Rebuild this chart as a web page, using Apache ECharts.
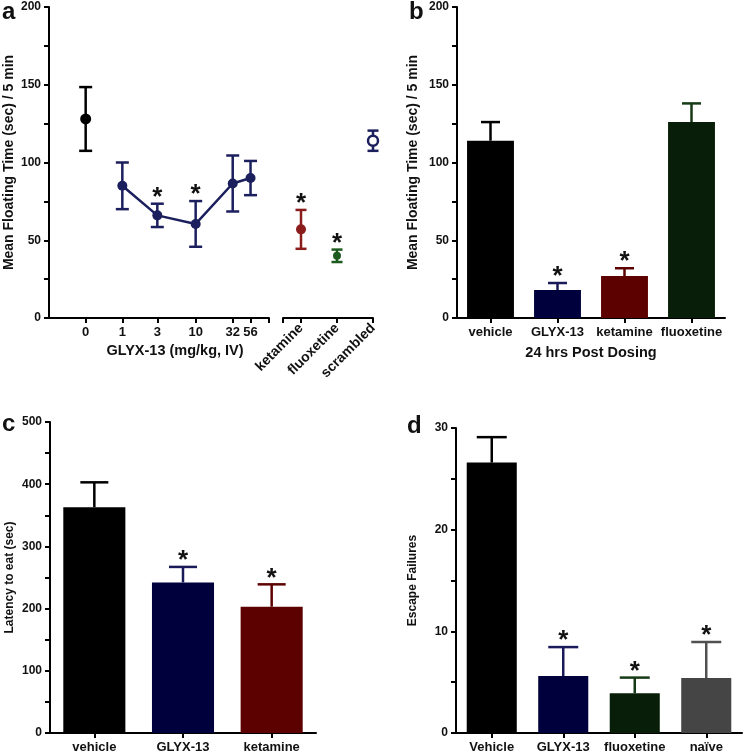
<!DOCTYPE html>
<html><head><meta charset="utf-8">
<script src="https://cdn.jsdelivr.net/npm/echarts@6/dist/echarts.min.js"></script>
<style>html,body{margin:0;padding:0;background:#fff}#c{width:746px;height:754px}</style>
</head><body><div id="c"></div>
<script>
// ---- Panel a: dose response ----
const aDoseLabels = ['0', '1', '3', '10', '32', '56'];
const aDoses = [0, 1, 3, 10, 32, 56];
const aMeans = [128, 85, 66, 60.5, 86.5, 90];
const aErrs = [20.5, 15, 7.5, 14.7, 18, 11];
const aSig = [0, 0, 1, 1, 0, 0];
const aCtrlCats = ['ketamine', 'fluoxetine', 'scrambled'];
const aCtrlMeans = [57, 40, 114];
const aCtrlErrs = [12.5, 4, 6.5];
const aCtrlSig = [1, 1, 0];
// ---- Panel b ----
const bCats = ['vehicle', 'GLYX-13', 'ketamine', 'fluoxetine'];
const bMeans = [114, 18, 27, 126];
const bErrs = [12, 4.5, 5, 12];
const bSig = [0, 1, 1, 0];
// ---- Panel c ----
const cCats = ['vehicle', 'GLYX-13', 'ketamine'];
const cMeans = [363, 242, 203];
const cErrs = [40, 25, 36];
const cSig = [0, 1, 1];
// ---- Panel d ----
const dCats = ['Vehicle', 'GLYX-13', 'fluoxetine', 'naïve'];
const dMeans = [26.6, 5.6, 3.9, 5.4];
const dErrs = [2.5, 2.85, 1.55, 3.55];
const dSig = [0, 1, 1, 1];
// tick labels
const yLabelsAB = [0, 50, 100, 150, 200];
const yLabelsC = [0, 100, 200, 300, 400, 500];
const yLabelsD = [0, 10, 20, 30];

const FONT = '"Liberation Sans", Arial, Helvetica, sans-serif';
const TXT = '#111';
const C = {
  black: '#000000', navyPt: '#1b1f5e', redPt: '#8b1c1c', greenPt: '#1d5a1d',
  navyBar: '#00003c', redBar: '#5c0000', greenBar: '#081e08', grey: '#454545'
};

// dose position on a log scale; dose 0 gets its own slot left of 1
const dosePos = d => d === 0 ? -0.5 : Math.log10(d);

const chart = echarts.init(document.getElementById('c'));

function axisLineStyle() { return { show: true, onZero: false, lineStyle: { color: '#000', width: 2 } }; }
function tickStyle(extra) { return Object.assign({ show: true, length: 5, lineStyle: { color: '#000', width: 2 } }, extra || {}); }
function lbl(extra) { return Object.assign({ color: TXT, fontFamily: FONT, fontWeight: 'bold', fontSize: 12 }, extra || {}); }

function starText(x, y) {
  return { type: 'text', style: { text: '*', x: x, y: y, align: 'center', verticalAlign: 'middle',
    fontFamily: FONT, fontWeight: 'bold', fontSize: 26, fill: TXT } };
}

function errBoth(colors, sig, capW) {
  return function (params, api) {
    const i = params.dataIndex;
    const x = api.value(0), m = api.value(1), e = api.value(2);
    const t = api.coord([x, m + e]), b = api.coord([x, m - e]);
    const st = { stroke: colors[i], lineWidth: 2.5 };
    const ch = [
      { type: 'line', shape: { x1: t[0], y1: t[1], x2: b[0], y2: b[1] }, style: st },
      { type: 'line', shape: { x1: t[0] - capW / 2, y1: t[1], x2: t[0] + capW / 2, y2: t[1] }, style: st },
      { type: 'line', shape: { x1: b[0] - capW / 2, y1: b[1], x2: b[0] + capW / 2, y2: b[1] }, style: st }
    ];
    if (sig[i]) ch.push(starText(t[0], t[1] - 6));
    return { type: 'group', children: ch };
  };
}

function errUp(colors, sig, capW) {
  return function (params, api) {
    const i = params.dataIndex;
    const x = api.value(0), m = api.value(1), e = api.value(2);
    const t = api.coord([x, m + e]), b = api.coord([x, m]);
    const st = { stroke: colors[i], lineWidth: 2.5 };
    const ch = [
      { type: 'line', shape: { x1: t[0], y1: t[1], x2: b[0], y2: b[1] }, style: st },
      { type: 'line', shape: { x1: t[0] - capW / 2, y1: t[1], x2: t[0] + capW / 2, y2: t[1] }, style: st }
    ];
    if (sig[i]) ch.push(starText(t[0], t[1] - 6));
    return { type: 'group', children: ch };
  };
}

function yAxisBase(grid, max, interval, labels, name, nameGap, nameSize) {
  return {
    gridIndex: grid, type: 'value', min: 0, max: max, interval: interval,
    axisLine: axisLineStyle(), axisTick: tickStyle(),
    axisLabel: lbl({ customValues: labels, margin: 8 }),
    splitLine: { show: false },
    name: name, nameLocation: 'middle', nameGap: nameGap, nameRotate: 90,
    nameTextStyle: { color: TXT, fontFamily: FONT, fontWeight: 'bold', fontSize: nameSize }
  };
}

function catX(grid, cats, name) {
  const ax = {
    gridIndex: grid, type: 'category', data: cats,
    axisLine: axisLineStyle(), axisTick: tickStyle({ alignWithLabel: true }),
    axisLabel: lbl({ fontSize: 13, margin: 8, interval: 0 })
  };
  if (name) {
    ax.name = name; ax.nameLocation = 'middle'; ax.nameGap = 27;
    ax.nameTextStyle = { color: TXT, fontFamily: FONT, fontWeight: 'bold', fontSize: 14.5 };
  }
  return ax;
}

const doseColors = aDoses.map((d, i) => i === 0 ? C.black : C.navyPt);
const ctrlColors = [C.redPt, C.greenPt, C.navyPt];
const bColors = [C.black, C.navyBar, C.redBar, C.greenBar];
const bErrColors = ['#000', '#1a1a5a', '#5c0000', '#163a16'];
const cColors = [C.black, C.navyBar, C.redBar];
const cErrColors = ['#000', '#1a1a5a', '#5c0000'];
const dColors = [C.black, C.navyBar, C.greenBar, C.grey];
const dErrColors = ['#000', '#1a1a5a', '#163a16', '#505050'];

function barData(vals, cols) {
  return vals.map((v, i) => ({ value: v, itemStyle: { color: cols[i] } }));
}

const option = {
  animation: false,
  backgroundColor: '#fff',
  grid: [
    { left: 49, top: 7, width: 220, height: 311 },   // a main
    { left: 283, top: 7, width: 90, height: 311 },   // a controls
    { left: 457, top: 7, width: 268, height: 311 },  // b
    { left: 50, top: 422, width: 266, height: 311 }, // c
    { left: 456, top: 428, width: 286, height: 305 } // d
  ],
  xAxis: [
    {
      gridIndex: 0, type: 'value', min: -1, max: 2,
      axisLine: axisLineStyle(),
      axisTick: tickStyle({ customValues: [-0.5, 0, Math.log10(3), 1, Math.log10(32), Math.log10(56), 2] }),
      axisLabel: lbl({
        customValues: aDoses.map(dosePos), margin: 8, fontSize: 13,
        formatter: v => {
          let best = 0;
          aDoses.forEach((d, i) => { if (Math.abs(dosePos(d) - v) < Math.abs(dosePos(aDoses[best]) - v)) best = i; });
          return aDoseLabels[best];
        }
      }),
      splitLine: { show: false }
    },
    {
      gridIndex: 1, type: 'value', min: -0.5, max: 2,
      axisLine: axisLineStyle(),
      axisTick: tickStyle({ customValues: [-0.5, 0, 1, 2] }),
      axisLabel: lbl({ customValues: [0, 1, 2], rotate: 45, margin: 8, fontSize: 14, formatter: v => aCtrlCats[Math.round(v)] }),
      splitLine: { show: false }
    },
    catX(2, bCats, '24 hrs Post Dosing'),
    catX(3, cCats),
    catX(4, dCats)
  ],
  yAxis: [
    yAxisBase(0, 200, 25, yLabelsAB, 'Mean Floating Time (sec) / 5 min', 33, 14),
    { gridIndex: 1, type: 'value', min: 0, max: 200, show: false },
    yAxisBase(2, 200, 25, yLabelsAB, 'Mean Floating Time (sec) / 5 min', 37, 14),
    yAxisBase(3, 500, 50, yLabelsC, 'Latency to eat (sec)', 34, 12),
    yAxisBase(4, 30, 5, yLabelsD, 'Escape Failures', 37, 12)
  ],
  graphic: [
    { type: 'text', left: 2, top: 0, style: { text: 'a', font: 'bold 24px ' + FONT, fill: TXT } },
    { type: 'text', left: 409, top: 0, style: { text: 'b', font: 'bold 24px ' + FONT, fill: TXT } },
    { type: 'text', left: 2, top: 412, style: { text: 'c', font: 'bold 24px ' + FONT, fill: TXT } },
    { type: 'text', left: 407, top: 414, style: { text: 'd', font: 'bold 24px ' + FONT, fill: TXT } },
    { type: 'text', x: 175, y: 351, style: { text: 'GLYX-13 (mg/kg, IV)', font: 'bold 14.5px ' + FONT, fill: TXT, align: 'center', verticalAlign: 'middle' } }
  ],
  series: [
    // panel a error bars
    {
      type: 'custom', xAxisIndex: 0, yAxisIndex: 0, z: 2, clip: false,
      renderItem: errBoth(doseColors, aSig, 13),
      data: aDoses.map((d, i) => [dosePos(d), aMeans[i], aErrs[i]])
    },
    {
      type: 'line', xAxisIndex: 0, yAxisIndex: 0, z: 3,
      symbol: 'circle', symbolSize: 10,
      lineStyle: { color: C.navyPt, width: 2.5 }, itemStyle: { color: C.navyPt, opacity: 1 },
      data: aDoses.map((d, i) => [dosePos(d), aMeans[i]]).filter((p, i) => aDoses[i] > 0)
    },
    {
      type: 'scatter', xAxisIndex: 0, yAxisIndex: 0, z: 3, symbolSize: 11,
      itemStyle: { color: C.black, opacity: 1 },
      data: aDoses.map((d, i) => [dosePos(d), aMeans[i]]).filter((p, i) => aDoses[i] === 0)
    },
    {
      type: 'custom', xAxisIndex: 1, yAxisIndex: 1, z: 2, clip: false,
      renderItem: errBoth(ctrlColors, aCtrlSig, 11),
      data: aCtrlCats.map((c, i) => [i, aCtrlMeans[i], aCtrlErrs[i]])
    },
    {
      type: 'scatter', xAxisIndex: 1, yAxisIndex: 1, z: 3, symbolSize: 10,
      data: aCtrlCats.map((c, i) => ({
        value: [i, aCtrlMeans[i]],
        itemStyle: i === 2 ? { color: '#fff', borderColor: C.navyPt, borderWidth: 2.5, opacity: 1 } : { color: ctrlColors[i], opacity: 1 },
        symbolSize: i === 1 ? 8 : 10
      }))
    },
    // panel b
    { type: 'bar', xAxisIndex: 2, yAxisIndex: 2, barWidth: '70%', data: barData(bMeans, bColors) },
    { type: 'custom', xAxisIndex: 2, yAxisIndex: 2, z: 3, clip: false,
      renderItem: errUp(bErrColors, bSig, 19), data: bCats.map((c, i) => [i, bMeans[i], bErrs[i]]) },
    // panel c
    { type: 'bar', xAxisIndex: 3, yAxisIndex: 3, barWidth: '70%', data: barData(cMeans, cColors) },
    { type: 'custom', xAxisIndex: 3, yAxisIndex: 3, z: 3, clip: false,
      renderItem: errUp(cErrColors, cSig, 28), data: cCats.map((c, i) => [i, cMeans[i], cErrs[i]]) },
    // panel d
    { type: 'bar', xAxisIndex: 4, yAxisIndex: 4, barWidth: '70%', data: barData(dMeans, dColors) },
    { type: 'custom', xAxisIndex: 4, yAxisIndex: 4, z: 3, clip: false,
      renderItem: errUp(dErrColors, dSig, 30), data: dCats.map((c, i) => [i, dMeans[i], dErrs[i]]) }
  ]
};
chart.setOption(option);
</script>
</body></html>
